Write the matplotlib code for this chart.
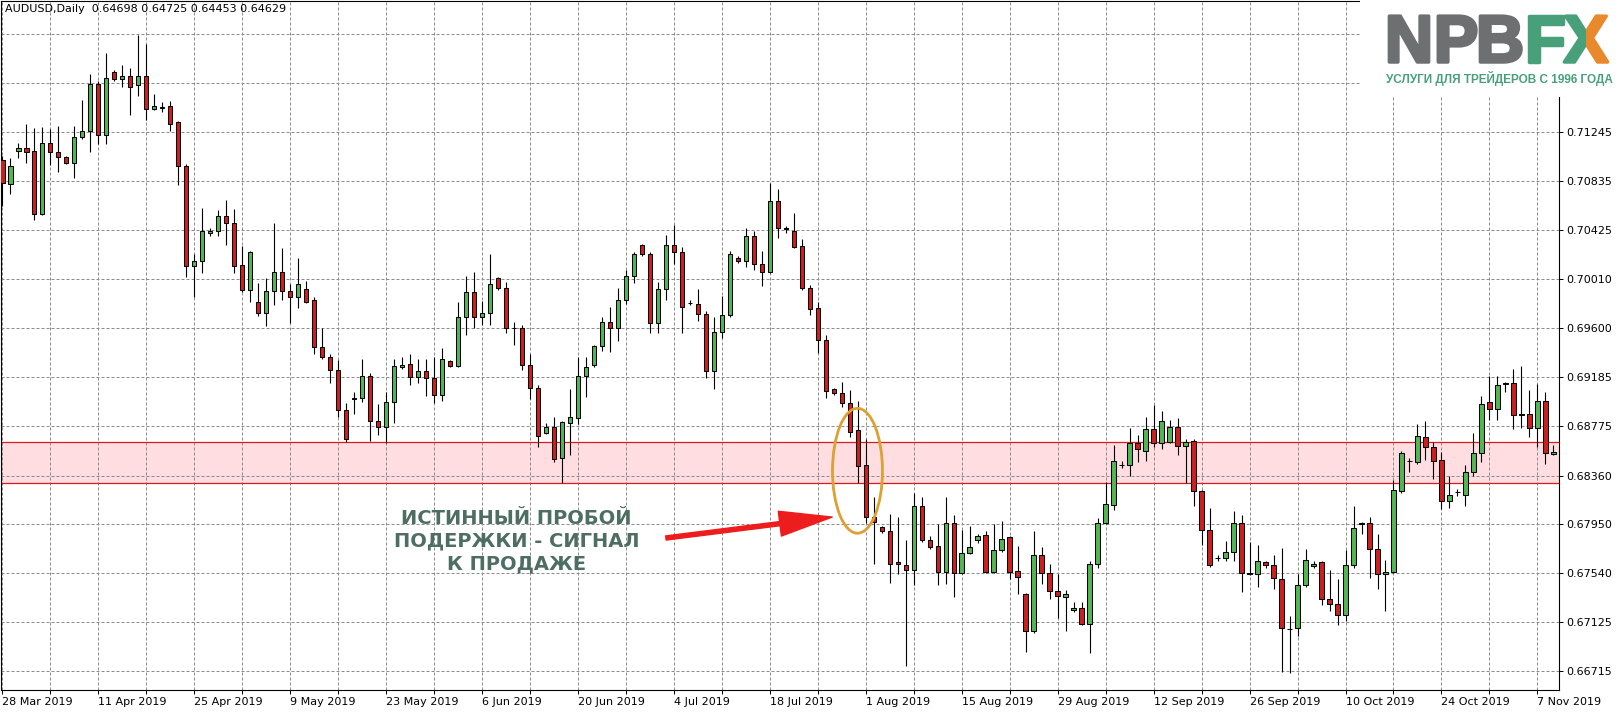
import matplotlib
matplotlib.use("Agg")
import matplotlib.pyplot as plt
import matplotlib.patheffects as pe
from matplotlib.patches import Ellipse, FancyArrowPatch, Rectangle

# AUDUSD daily candles, bar index 0 = 28 Mar 2019 (6 bars per week incl. Sunday bars)
opens = [
    .7101, .7081, .7109, .7111, .7109, .7056, .7116, .7108, .7104, .7099,
    .7121, .7126, .7165, .7122, .7175, .7169, .7172, .7164, .7172, .7144,
    .7145, .7147, .7133, .7096, .7012, .7016, .7040, .7042, .7054, .7048,
    .7013, .6992, .6982, .6973, .6991, .7007, .6991, .6986, .6993, .6984,
    .6944, .6936, .6925, .6891, .6900, .6901, .6920, .6882, .6877, .6898,
    .6927, .6930, .6919, .6924, .6918, .6904, .6932, .6928, .6969, .6990,
    .6969, .6973, .7002, .6994, .6960, .6960, .6929, .6910, .6872, .6877,
    .6851, .6880, .6884, .6920, .6929, .6945, .6965, .6960, .6984, .7004,
    .7030, .7022, .6964, .6993, .7030, .7024, .6981, .6980, .6972, .6924,
    .6957, .6971, .7019, .7016, .7037, .7014, .7007, .7067, .7044, .7042,
    .7029, .6994, .6977, .6950, .6909, .6905, .6897, .6874, .6845, .6801,
    .6793, .6789, .6763, .6761, .6757, .6810, .6782, .6777, .6755, .6796,
    .6754, .6771, .6782, .6786, .6755, .6773, .6784, .6756, .6736, .6705,
    .6769, .6754, .6739, .6734, .6723, .6725, .6711, .6762, .6796, .6811,
    .6845, .6845, .6863, .6857, .6875, .6863, .6864, .6877, .6861, .6865,
    .6823, .6790, .6767, .6767, .6772, .6796, .6754, .6753, .6763, .6761,
    .6749, .6707, .6708, .6744, .6760, .6763, .6732, .6728, .6719, .6761,
    .6796, .6796, .6774, .6753, .6755, .6823, .6848, .6847, .6868, .6860,
    .6849, .6815, .6822, .6820, .6839, .6855, .6898, .6892, .6914, .6914,
    .6888, .6888, .6876, .6899, .6854,
]
highs = [
    .7105, .7103, .7116, .7132, .7128, .7129, .7127, .7130, .7105, .7130,
    .7152, .7174, .7168, .7191, .7177, .7181, .7179, .7206, .7199, .7157,
    .7150, .7151, .7134, .7098, .7022, .7061, .7044, .7059, .7068, .7060,
    .7029, .7025, .6998, .7002, .7048, .7027, .6997, .7019, .7000, .6986,
    .6960, .6938, .6933, .6897, .6906, .6934, .6922, .6896, .6906, .6934,
    .6936, .6938, .6934, .6934, .6936, .6943, .6933, .6982, .7004, .7007,
    .6983, .7022, .7003, .6999, .6965, .6963, .6938, .6912, .6880, .6885,
    .6882, .6909, .6936, .6936, .6946, .6969, .6978, .6994, .7009, .7024,
    .7031, .7024, .6999, .7038, .7047, .7028, .6984, .6993, .6974, .6969,
    .6987, .7025, .7021, .7044, .7042, .7025, .7082, .7077, .7046, .7057,
    .7035, .6996, .6982, .6954, .6910, .6915, .6908, .6899, .6867, .6818,
    .6794, .6804, .6801, .6782, .6821, .6818, .6785, .6795, .6818, .6803,
    .6790, .6794, .6787, .6789, .6795, .6798, .6785, .6777, .6737, .6789,
    .6776, .6762, .6753, .6740, .6730, .6730, .6764, .6800, .6831, .6862,
    .6848, .6876, .6870, .6885, .6895, .6890, .6883, .6884, .6867, .6867,
    .6824, .6809, .6769, .6781, .6806, .6803, .6780, .6778, .6764, .6769,
    .6775, .6718, .6753, .6774, .6764, .6764, .6757, .6749, .6773, .6810,
    .6797, .6801, .6787, .6765, .6832, .6857, .6851, .6879, .6882, .6864,
    .6856, .6836, .6825, .6845, .6872, .6903, .6920, .6920, .6915, .6926,
    .6928, .6908, .6913, .6906, .6862,
]
lows = [
    .7063, .7073, .7103, .7099, .7051, .7055, .7097, .7091, .7098, .7086,
    .7119, .7108, .7115, .7115, .7168, .7163, .7139, .7155, .7135, .7143,
    .7142, .7126, .7080, .7003, .6986, .7006, .7037, .7037, .7030, .7006,
    .6990, .6982, .6970, .6962, .6979, .6984, .6964, .6977, .6981, .6938,
    .6934, .6914, .6885, .6864, .6888, .6898, .6865, .6870, .6863, .6880,
    .6926, .6912, .6914, .6903, .6897, .6899, .6927, .6927, .6954, .6960,
    .6963, .6963, .6992, .6956, .6946, .6925, .6900, .6860, .6871, .6847,
    .6830, .6853, .6879, .6902, .6927, .6941, .6940, .6949, .6980, .6998,
    .7021, .6956, .6956, .6984, .7014, .6956, .6979, .6966, .6918, .6909,
    .6952, .6969, .7015, .7011, .7009, .6995, .7006, .7036, .7040, .7027,
    .6992, .6971, .6939, .6901, .6904, .6894, .6868, .6830, .6796, .6762,
    .6788, .6746, .6753, .6676, .6744, .6780, .6774, .6744, .6745, .6734,
    .6753, .6770, .6779, .6754, .6754, .6772, .6749, .6736, .6688, .6704,
    .6745, .6732, .6716, .6705, .6721, .6710, .6687, .6758, .6795, .6807,
    .6842, .6836, .6847, .6848, .6860, .6858, .6863, .6853, .6830, .6810,
    .6778, .6759, .6764, .6764, .6764, .6738, .6752, .6742, .6758, .6741,
    .6671, .6670, .6701, .6742, .6758, .6727, .6722, .6710, .6714, .6758,
    .6787, .6750, .6741, .6722, .6754, .6821, .6839, .6846, .6849, .6833,
    .6808, .6809, .6819, .6810, .6836, .6847, .6883, .6883, .6906, .6875,
    .6876, .6868, .6860, .6846, .6853,
]
closes = [
    .7082, .7096, .7111, .7108, .7056, .7116, .7108, .7104, .7099, .7121,
    .7126, .7165, .7122, .7170, .7169, .7172, .7163, .7172, .7144, .7147,
    .7146, .7132, .7096, .7012, .7016, .7042, .7042, .7054, .7048, .7012,
    .6992, .7024, .6973, .6991, .7007, .6991, .6986, .6997, .6982, .6944,
    .6936, .6925, .6891, .6867, .6901, .6920, .6882, .6877, .6898, .6928,
    .6929, .6919, .6924, .6918, .6904, .6934, .6928, .6969, .6990, .6969,
    .6973, .6997, .6994, .6960, .6960, .6929, .6910, .6869, .6877, .6850,
    .6881, .6885, .6920, .6927, .6945, .6965, .6960, .6984, .7004, .7022,
    .7022, .6964, .6993, .7030, .7024, .6978, .6981, .6972, .6924, .6957,
    .6971, .7022, .7016, .7037, .7014, .7007, .7067, .7044, .7043, .7028,
    .6994, .6976, .6950, .6907, .6905, .6897, .6873, .6844, .6801, .6797,
    .6789, .6762, .6762, .6757, .6810, .6782, .6776, .6755, .6796, .6754,
    .6771, .6776, .6785, .6755, .6773, .6783, .6755, .6751, .6705, .6769,
    .6754, .6739, .6735, .6736, .6725, .6711, .6762, .6796, .6812, .6848,
    .6845, .6863, .6858, .6875, .6863, .6882, .6877, .6861, .6864, .6823,
    .6790, .6761, .6767, .6772, .6796, .6754, .6753, .6764, .6761, .6750,
    .6708, .6707, .6744, .6765, .6762, .6732, .6728, .6719, .6761, .6792,
    .6795, .6774, .6753, .6755, .6824, .6855, .6848, .6869, .6860, .6848,
    .6815, .6820, .6822, .6839, .6855, .6896, .6892, .6912, .6913, .6887,
    .6887, .6876, .6899, .6855, .6856,
]

date_labels = ["28 Mar 2019", "11 Apr 2019", "25 Apr 2019", "9 May 2019", "23 May 2019",
               "6 Jun 2019", "20 Jun 2019", "4 Jul 2019", "18 Jul 2019", "1 Aug 2019",
               "15 Aug 2019", "29 Aug 2019", "12 Sep 2019", "26 Sep 2019", "10 Oct 2019",
               "24 Oct 2019", "7 Nov 2019"]
price_levels = [0.66715, 0.67125, 0.67540, 0.67950, 0.68360, 0.68775, 0.69185,
                0.69600, 0.70010, 0.70425, 0.70835, 0.71245, 0.71660, 0.72075]
zone_low, zone_high = 0.6830, 0.6864

W, H = 1622, 716
fig = plt.figure(figsize=(W / 100, H / 100), dpi=100)
ax = fig.add_axes([1 / W, 26 / H, 1558 / W, 689 / H])

up_col, dn_col = "#52B752", "#CC1F1F"
n = len(opens)
xs = list(range(n))

# support zone
ax.axhspan(zone_low, zone_high, facecolor="#FFDDE0", edgecolor="none", zorder=0.2)
for lv in (zone_low, zone_high):
    ax.axhline(lv, color="#E01818", lw=0.9, zorder=1)

# candles
ax.vlines(xs, lows, highs, color="black", lw=0.8, zorder=2)
bottoms = [min(o, c) for o, c in zip(opens, closes)]
heights = [max(abs(c - o), 1e-6) for o, c in zip(opens, closes)]
colors = [up_col if c >= o else dn_col for o, c in zip(opens, closes)]
ax.bar(xs, heights, bottom=bottoms, width=0.56, color=colors,
       edgecolor="black", linewidth=0.75, zorder=3)

ax.set_xlim(-0.16, 194.7)
ax.set_ylim(0.66557, 0.72350)

# axes / grid
ax.set_axisbelow(True)
ax.yaxis.tick_right()
ax.set_yticks(price_levels)
ax.set_yticklabels([f"{v:.5f}" for v in price_levels])
ax.set_xticks(list(range(0, 12 * len(date_labels), 12)))
ax.set_xticklabels(date_labels, ha="left")
ax.set_xticks(list(range(6, 195, 12)), minor=True)
ax.tick_params(axis="y", direction="out", length=3, width=0.7, pad=2,
               labelsize=8, right=True, left=False)
ax.tick_params(axis="x", which="both", direction="out", length=3, width=0.7,
               pad=2, labelsize=8)
ax.grid(True, axis="x", which="both", color="#8c8c8c", lw=0.72, linestyle=(0, (3, 2)))
ax.grid(True, axis="y", which="major", color="#8c8c8c", lw=0.72, linestyle=(0, (3, 2)))
for sp in ax.spines.values():
    sp.set_color("black")
    sp.set_linewidth(0.8)

# annotation
ax.add_patch(Ellipse((106.96, 0.6840), width=6.25, height=0.0105, fill=False,
                     edgecolor="#DDA032", lw=2.0, zorder=6))
ax.add_patch(FancyArrowPatch((83.0, 0.67835), (103.8, 0.68011),
                             arrowstyle="simple,head_length=38,head_width=18,tail_width=3",
                             mutation_scale=1, color="#EE1D1D", shrinkA=0, shrinkB=0,
                             zorder=6))
ax.text(64.3, 0.67810, "ИСТИННЫЙ ПРОБОЙ\nПОДЕРЖКИ - СИГНАЛ\nК ПРОДАЖЕ",
        ha="center", va="center", fontsize=14, fontweight="bold",
        color="#4F6E62", linespacing=1.25, zorder=7)

# header
fig.text(5 / W, 1 - 9 / H, "AUDUSD,Daily  0.64698 0.64725 0.64453 0.64629",
         fontsize=8, ha="left", va="center", color="black")

# logo block
fig.add_artist(Rectangle((1360 / W, 1 - 97 / H), 1, 1, transform=fig.transFigure,
                         facecolor="white", edgecolor="none", zorder=5))
gray, green, orange = "#6E6F71", "#48A07B", "#E8892B"
base_y = 1 - 62 / H
for ch, cx, col in [("N", 1409, gray), ("P", 1456, gray), ("B", 1500, gray),
                    ("F", 1545, green)]:
    fig.text(cx / W, base_y, ch, fontsize=48, fontweight="bold", color=col,
             family="Liberation Sans", ha="center", va="baseline", zorder=6,
             path_effects=[pe.withStroke(linewidth=2.5, foreground=col)])
x_cx = 1586
for col, x0, x1 in [(green, 0, x_cx), (orange, x_cx, W)]:
    t = fig.text(x_cx / W, base_y, "X", fontsize=48, fontweight="bold", color=col,
                 family="Liberation Sans", ha="center", va="baseline", zorder=6,
                 path_effects=[pe.withStroke(linewidth=2.5, foreground=col)])
    t.set_clip_path(Rectangle((x0 / W, 0), (x1 - x0) / W, 1, transform=fig.transFigure))
fig.text(1499 / W, 1 - 78 / H, "УСЛУГИ ДЛЯ ТРЕЙДЕРОВ С 1996 ГОДА", fontsize=8.5,
         fontweight="bold", color=green, family="Liberation Sans",
         ha="center", va="center", zorder=6)

fig.savefig("out.png", dpi=100, facecolor="white")
